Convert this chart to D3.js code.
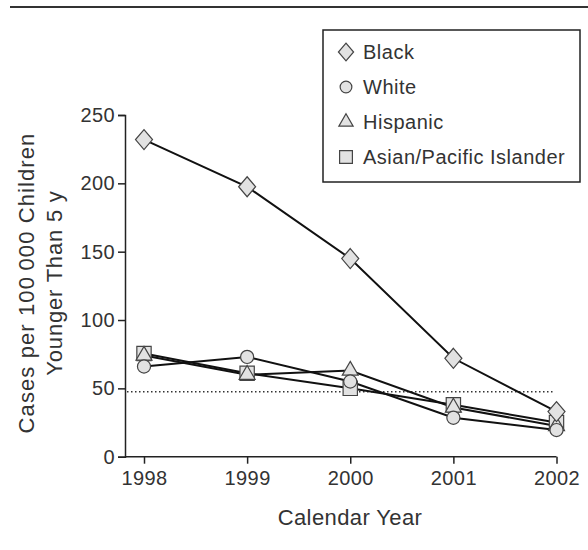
<!DOCTYPE html>
<html>
<head>
<meta charset="utf-8">
<script src="https://cdn.jsdelivr.net/npm/d3@7"></script>
<style>
  body { margin: 0; background: #fff; }
  text { font-family: "Liberation Sans", Arial, sans-serif; fill: #333; }
</style>
</head>
<body>
<div id="chart"></div>
<script>
const years = [1998, 1999, 2000, 2001, 2002];
const black = [232, 197.5, 145, 72, 33];
const white = [66, 73, 55, 28.5, 19.5];
const hispanic = [74, 60, 63, 36, 22.5];
const asian = [75.5, 61, 50, 38, 25];
const refLevel = 47.5;
const yTicks = [0, 50, 100, 150, 200, 250];

// diamond a bit wider than d3's default one
const wideDiamond = {
  draw(ctx, size) {
    const h = Math.sqrt(size / 1.7);
    const w = h * 0.85;
    ctx.moveTo(0, -h); ctx.lineTo(w, 0); ctx.lineTo(0, h); ctx.lineTo(-w, 0); ctx.closePath();
  }
};

const series = [
  {name: "Black", values: black, symbol: wideDiamond, size: 170},
  {name: "White", values: white, symbol: d3.symbolCircle, size: 135},
  {name: "Hispanic", values: hispanic, symbol: d3.symbolTriangle, size: 110},
  {name: "Asian/Pacific Islander", values: asian, symbol: d3.symbolSquare, size: 205}
];

const W = 588, H = 550;
const svg = d3.select("#chart").append("svg").attr("width", W).attr("height", H);

// rule at the very top
svg.append("line").attr("x1", 10).attr("x2", W).attr("y1", 7).attr("y2", 7)
  .attr("stroke", "#333").attr("stroke-width", 2);

const x = d3.scaleLinear().domain([1998, 2002]).range([144, 556.5]);
const y = d3.scaleLinear().domain([0, 250]).range([456.7, 115]);

// axes
const yAxis = svg.append("g").attr("transform", "translate(125,0)")
  .call(d3.axisLeft(y).tickValues(yTicks).tickSize(7).tickPadding(3));
const xAxis = svg.append("g").attr("transform", `translate(0,${y(0)})`)
  .call(d3.axisBottom(x).tickValues(years).tickFormat(d3.format("d")).tickSize(7).tickPadding(4));
xAxis.select(".domain").attr("d", `M125,0H${x(2002)}`);
[yAxis, xAxis].forEach(g => {
  g.selectAll("path,line").attr("stroke", "#222").attr("stroke-width", 1.5);
  g.selectAll("text").attr("font-size", 20).attr("fill", "#333").attr("letter-spacing", 0.4)
    .attr("font-family", "Liberation Sans, Arial, sans-serif");
});
xAxis.selectAll("text").attr("dy", "0.85em");

// dotted reference line
svg.append("line")
  .attr("x1", 127).attr("x2", 553)
  .attr("y1", y(refLevel)).attr("y2", y(refLevel))
  .attr("stroke", "#333").attr("stroke-width", 1.5).attr("stroke-dasharray", "1.5,2.5");

const line = d3.line().x((d, i) => x(years[i])).y(d => y(d));

// lines first, then markers
series.slice().reverse().forEach(s => {
  svg.append("path").datum(s.values).attr("d", line)
    .attr("fill", "none").attr("stroke", "#111").attr("stroke-width", 2);
});
series.slice().reverse().forEach(s => {
  svg.append("g").selectAll("path").data(s.values).join("path")
    .attr("transform", (d, i) => `translate(${x(years[i])},${y(d)})`)
    .attr("d", d3.symbol().type(s.symbol).size(s.size))
    .attr("fill", "#e2e2e2").attr("stroke", "#444").attr("stroke-width", 1.2);
});

// legend
const leg = svg.append("g");
leg.append("rect").attr("x", 323).attr("y", 30).attr("width", 257).attr("height", 152)
  .attr("fill", "#fff").attr("stroke", "#222").attr("stroke-width", 1.5);
series.forEach((s, i) => {
  const cy = 52 + i * 35;
  leg.append("path").attr("transform", `translate(346,${cy})`)
    .attr("d", d3.symbol().type(s.symbol).size(s.size * 0.8))
    .attr("fill", "#e2e2e2").attr("stroke", "#444").attr("stroke-width", 1.2);
  leg.append("text").attr("x", 363).attr("y", cy).attr("dy", "0.36em")
    .attr("font-size", 20).attr("letter-spacing", 0.5).text(s.name);
});

// axis titles
svg.append("text").attr("transform", "translate(34,283) rotate(-90)")
  .attr("text-anchor", "middle").attr("font-size", 22).attr("letter-spacing", 1.1)
  .text("Cases per 100\u2009000 Children");
svg.append("text").attr("transform", "translate(62,283) rotate(-90)")
  .attr("text-anchor", "middle").attr("font-size", 22).attr("letter-spacing", 0.8)
  .text("Younger Than 5 y");
svg.append("text").attr("x", 350).attr("y", 525)
  .attr("text-anchor", "middle").attr("font-size", 22).attr("letter-spacing", 0.4)
  .text("Calendar Year");
</script>
</body>
</html>
